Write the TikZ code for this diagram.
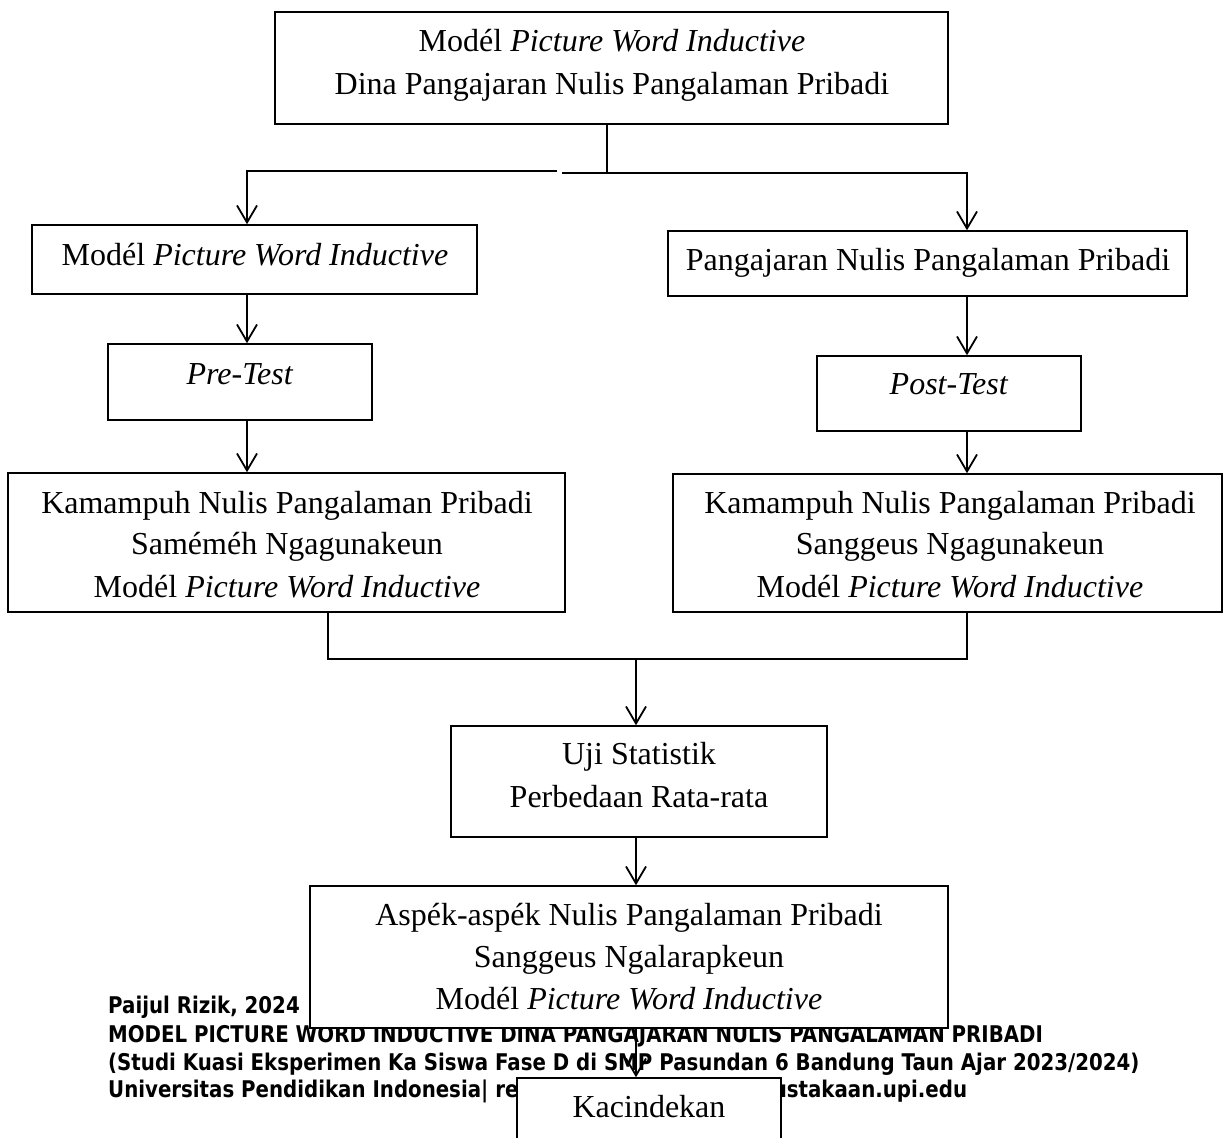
\documentclass[tikz,border=0pt]{standalone}
\usepackage{fontspec}
\setmainfont{Liberation Serif}
\newfontfamily\footfont[FakeStretch=0.86]{DejaVu Sans}
\usetikzlibrary{arrows.meta}
\begin{document}
\begin{tikzpicture}[x=1pt,y=-1pt,
  box/.style={draw, line width=1.5pt, fill=white, inner sep=0pt},
  conn/.style={line width=1.8pt},
  arr/.style={conn, -{Straight Barb[length=17pt,width=20pt,line width=1.8pt]}},
  txt/.style={anchor=base, inner sep=0pt, font=\fontsize{32}{38}\selectfont},
  foot/.style={anchor=base west, inner sep=0pt, font=\footfont\bfseries\fontsize{23}{28}\selectfont}]
\useasboundingbox (0,0) rectangle (1224,1138);
\fill[white] (0,0) rectangle (1224,1138);

% footer text (lies under the boxes)
\node[foot] (f1) at (108,1013) {Paijul Rizik, 2024};
\node[foot] (f2) at (108,1042) {MODEL PICTURE WORD INDUCTIVE DINA PANGAJARAN NULIS PANGALAMAN PRIBADI};
\node[foot] (f3) at (108,1070) {(Studi Kuasi Eksperimen Ka Siswa Fase D di SMP Pasundan 6 Bandung Taun Ajar 2023/2024)};
\node[foot] (f4) at (108,1097) {Universitas Pendidikan Indonesia| repository.upi.edu | perpustakaan.upi.edu};

% boxes
\node[box, minimum width=673pt, minimum height=112pt] (b0) at (611.5,68) {};
\node[box, minimum width=445pt, minimum height=69pt] (b1) at (254.5,259.5) {};
\node[box, minimum width=519pt, minimum height=65pt] (b2) at (927.5,263.5) {};
\node[box, minimum width=264pt, minimum height=76pt] (b3) at (240,382) {};
\node[box, minimum width=264pt, minimum height=75pt] (b4) at (949,393.5) {};
\node[box, minimum width=557pt, minimum height=139pt] (b5) at (286.5,542.5) {};
\node[box, minimum width=549pt, minimum height=138pt] (b6) at (947.5,543) {};
\node[box, minimum width=376pt, minimum height=111pt] (b7) at (639,781.5) {};
\node[box, minimum width=638pt, minimum height=142pt] (b8) at (629,957) {};
\node[box, minimum width=264pt, minimum height=82pt] (b9) at (649,1119) {};

% texts
\node[txt] (t0a) at (612,51) {Modél \textit{Picture Word Inductive}};
\node[txt] (t0b) at (612,94) {Dina Pangajaran Nulis Pangalaman Pribadi};
\node[txt] (t1) at (255,265) {Modél \textit{Picture Word Inductive}};
\node[txt] (t2) at (928,270) {Pangajaran Nulis Pangalaman Pribadi};
\node[txt] (t3) at (240,384) {\textit{Pre-Test}};
\node[txt] (t4) at (949,394) {\textit{Post-Test}};
\node[txt] (t5a) at (287,513) {Kamampuh Nulis Pangalaman Pribadi};
\node[txt] (t5b) at (287,554) {Saméméh Ngagunakeun};
\node[txt] (t5c) at (287,597) {Modél \textit{Picture Word Inductive}};
\node[txt] (t6a) at (950,513) {Kamampuh Nulis Pangalaman Pribadi};
\node[txt] (t6b) at (950,554) {Sanggeus Ngagunakeun};
\node[txt] (t6c) at (950,597) {Modél \textit{Picture Word Inductive}};
\node[txt] (t7a) at (639,764) {Uji Statistik};
\node[txt] (t7b) at (639,807) {Perbedaan Rata-rata};
\node[txt] (t8a) at (629,925) {Aspék-aspék Nulis Pangalaman Pribadi};
\node[txt] (t8b) at (629,967) {Sanggeus Ngalarapkeun};
\node[txt] (t8c) at (629,1009) {Modél \textit{Picture Word Inductive}};
\node[txt] (t9) at (649,1117) {Kacindekan};

% helper coordinates
\coordinate (jr) at (607,173);
\coordinate (rs) at (562,173);
\coordinate (ls) at (557,171);
\coordinate (lx) at (247,0);
\coordinate (rx) at (967,0);
\coordinate (ml) at (328,0);
\coordinate (mh) at (0,659);
\coordinate (cx) at (636,0);

% connectors
\draw[conn] (b0.south -| jr) -- (jr);
\draw[arr] (rs) -| (b2.north -| rx);
\draw[arr] (ls) -| (b1.north -| lx);
\draw[arr] (b1.south -| lx) -- (b3.north -| lx);
\draw[arr] (b3.south -| lx) -- (b5.north -| lx);
\draw[arr] (b2.south -| rx) -- (b4.north -| rx);
\draw[arr] (b4.south -| rx) -- (b6.north -| rx);
\draw[conn] (b5.south -| ml) -- (ml |- mh) -- (rx |- mh) -- (b6.south -| rx);
\draw[arr] (cx |- mh) -- (b7.north -| cx);
\draw[arr] (b7.south -| cx) -- (b8.north -| cx);
\draw[arr] (b8.south -| cx) -- (b9.north -| cx);
\end{tikzpicture}
\end{document}
